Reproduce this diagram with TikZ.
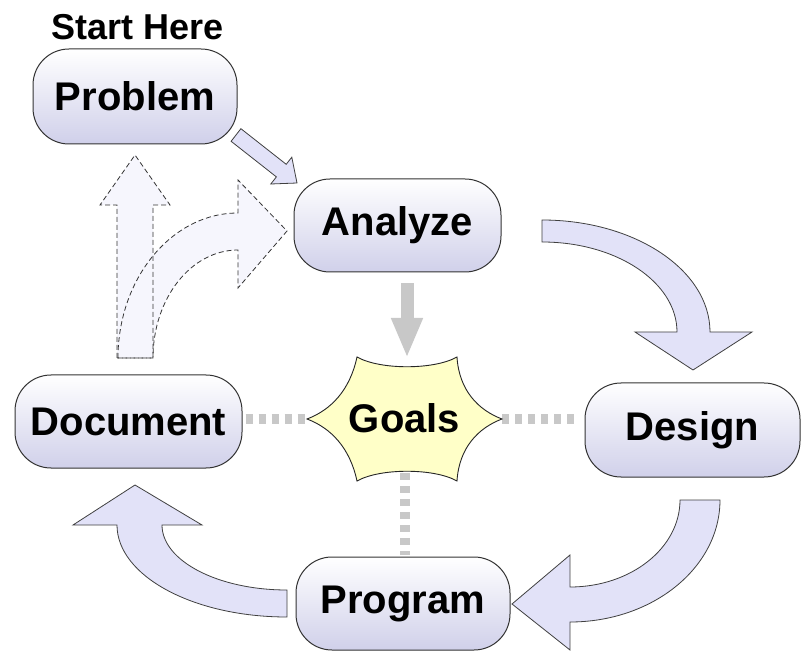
\documentclass[tikz,border=0pt]{standalone}
\usepackage{fontspec}
\setmainfont{Liberation Sans}
\usetikzlibrary{arrows.meta,calc}
\definecolor{lav}{RGB}{226,226,248}
\definecolor{lavbot}{RGB}{208,208,234}
\definecolor{ghost}{RGB}{246,246,253}
\definecolor{dots}{RGB}{200,200,200}
\definecolor{starfill}{RGB}{255,255,200}
\begin{document}
\begin{tikzpicture}[x=1pt,y=-1pt,
  stepbox/.style={draw=black!80, line width=1pt, rounded corners=36pt, top color=white, bottom color=lavbot, font={\fontsize{40}{48}\selectfont\bfseries}, inner sep=0pt},
  blockarrow/.style={draw=black!75, line width=0.8pt, fill=lav, line join=miter},
  ghostline/.style={draw=black!80, line width=0.8pt, dash pattern=on 5pt off 3pt},
  dotlink/.style={draw=dots, line width=10pt, dash pattern=on 7pt off 6pt},
  graybar/.style={draw=dots, line width=13pt, -{Triangle[length=40pt,width=29pt]}},
]
\useasboundingbox[fill=white] (0,0) rectangle (801,652);

% ghost arrows (fills, then outlines)
\fill[ghost] (117,358) -- (117,205) -- (100,205) -- (135,155) -- (170,205) -- (153,205) -- (153,358) -- cycle;
\fill[ghost] (118,358) .. controls (118,278.5) and (171.7,213) .. (238,213) -- (238,180) -- (287,231) -- (238,288) -- (238,250) .. controls (191.1,250) and (153,298.4) .. (153,358) -- cycle;
\draw[ghostline] (117,358) -- (117,205) -- (100,205) -- (135,155) -- (170,205) -- (153,205) -- (153,358) -- cycle;
\draw[ghostline] (118,358) .. controls (118,278.5) and (171.7,213) .. (238,213) -- (238,180) -- (287,231) -- (238,288) -- (238,250) .. controls (191.1,250) and (153,298.4) .. (153,358) -- cycle;

% cycle arrows
\draw[blockarrow] (240.9,128.7) -- (286.2,164.3) -- (291.8,157.2) -- (297,183) -- (270.8,184) -- (276.4,176.9) -- (231.1,141.3) -- cycle;
\draw[blockarrow] (542,220) .. controls (634.8,220) and (710,270.1) .. (710,332) -- (752,332) -- (693,370) -- (635,332) -- (677,332) .. controls (677,282.3) and (616.6,242) .. (542,242) -- cycle;
\draw[blockarrow] (720,500) .. controls (720,567.4) and (652.8,622) .. (570,622) -- (570,650) -- (512,604) -- (570,555) -- (570,587) .. controls (630.8,587) and (680,548) .. (680,500) -- cycle;
\draw[blockarrow] (287,617) .. controls (193.1,617) and (117,575.8) .. (117,525) -- (73,525) -- (135,485) -- (202,525) -- (162,525) .. controls (162,560.9) and (218,590) .. (287,590) -- cycle;

% nodes
\node[font={\fontsize{36}{42}\selectfont\bfseries}] (start) at (138,27) {Start Here};
\node[stepbox, minimum width=204pt, minimum height=95pt] (prob) at (135,96.5) {Problem};
\node[stepbox, minimum width=207pt, minimum height=93pt] (an) at (397.5,225.5) {Analyze};
\node[stepbox, minimum width=215pt, minimum height=94pt] (des) at (692.5,430) {Design};
\node[stepbox, minimum width=227pt, minimum height=93pt] (doc) at (128.5,421.5) {Document};
\node[stepbox, minimum width=214pt, minimum height=93pt] (prog) at (403,603.5) {Program};

% goals star
\coordinate (gL) at (307,419);
\coordinate (gR) at (502,419);
\coordinate (gB) at (405,473);
\coordinate (gT) at (407,358);
\draw[dotlink] ($(doc.east |- gL)+(3,0)$) -- (gL);
\draw[dotlink] (gR) -- ($(des.west |- gR)+(-8,0)$);
\draw[dotlink] (gB) -- ($(gB |- prog.north)+(0,-2)$);
\draw[graybar] ($(gT |- an.south)+(0,11)$) -- (gT);
\draw[fill=starfill, draw=black!85, line width=0.9pt] (gL) .. controls (331,410) and (350,390) .. (357,357) .. controls (380,370) and (434,370) .. (457,357) .. controls (459,390) and (478,410) .. (gR) .. controls (478,428) and (459,448) .. (457,481) .. controls (434,468) and (380,468) .. (357,481) .. controls (350,448) and (331,428) .. (gL) -- cycle;
\node[font={\fontsize{40}{48}\selectfont\bfseries}] (goals) at (404.5,418) {Goals};
\end{tikzpicture}
\end{document}
